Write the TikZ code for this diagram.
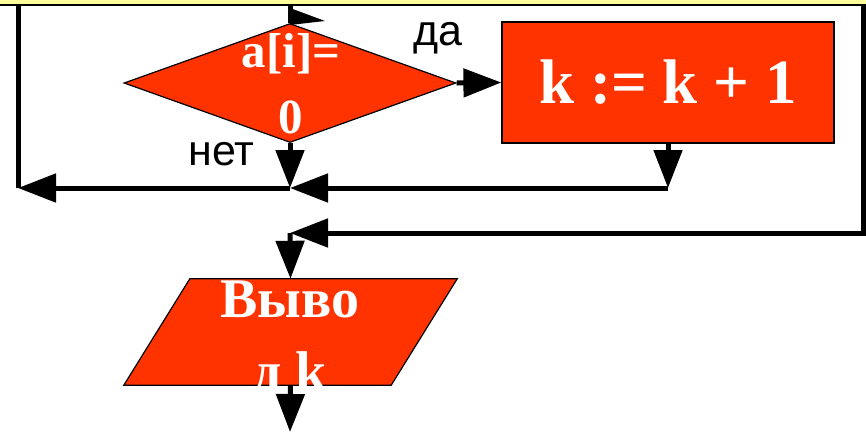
\documentclass[tikz,border=0pt]{standalone}
\usepackage{fontspec}
\setmainfont{Liberation Serif}
\newfontfamily\labelfont{Liberation Sans}
\usetikzlibrary{shapes.geometric,arrows.meta,calc}
\definecolor{blockred}{RGB}{255,51,0}
\definecolor{loopyellow}{RGB}{255,255,153}

\begin{document}
\begin{tikzpicture}[
    x=1pt, y=-1pt,
    block/.style={rectangle, draw, line width=1.2pt, fill=blockred, text=white, font=\bfseries\fontsize{63}{63}\selectfont, minimum width=332pt, minimum height=121pt, inner sep=0pt},
    cond/.style={diamond, draw, line width=1.2pt, fill=blockred, minimum width=332pt, minimum height=119pt, inner sep=0pt},
    iobox/.style={rectangle, minimum width=267pt, minimum height=106pt, inner sep=0pt},
    looptop/.style={rectangle, draw, line width=2.5pt, fill=loopyellow, minimum width=1000pt, minimum height=60pt},
    bigtext/.style={text=white, align=center, inner sep=0pt, anchor=base},
    answer/.style={font=\labelfont\fontsize{43}{43}\selectfont, inner sep=0pt, anchor=base},
    line/.style={line width=5pt},
    arrow/.style={line width=5pt, -{Triangle[length=38pt,width=28pt]}}
]
\useasboundingbox (0,0) rectangle (866,432);

% blocks
\node[looptop] (loop) at (433,-25) {};
\node[cond] (cond) at (290,83) {};
\node[block] (inc) at (668,82.5) {k := k + 1};
\node[iobox] (out) at (290.5,332) {};
\filldraw[fill=blockred, line width=1.2pt] ($(out.north west)+(33,0)$) -- ($(out.north east)+(33,0)$)
    -- ($(out.south east)+(-33,0)$) -- ($(out.south west)+(-33,0)$) -- cycle;

% texts in the blocks
\node[bigtext, font=\bfseries\fontsize{49}{66}\selectfont] (condtext) at (291,133) {a[i]=\\0};
\node[bigtext, font=\bfseries\fontsize{56}{73}\selectfont] (outtext) at (290,390) {Выво\\д k};

% branch labels
\node[answer] (yes) at (438,45) {да};
\node[answer] (no) at (221.5,165) {нет};

% junctions
\coordinate (j1) at (290,188);
\coordinate (j2) at (668,188);
\coordinate (j3) at (18,188);
\coordinate (j4) at (863,233);
\coordinate (j5) at (290,233);
\coordinate (stop) at (290,432);

% connectors
\draw[line] (loop.south -| cond.north) -- (cond.north);
\fill (290,8) -- (325,21) -- (290,25) -- cycle;
\draw[arrow] (cond.east) -- (inc.west);
\draw[arrow] (cond.south) -- (j1);
\draw[arrow] (inc.south) -- (j2);
\draw[arrow] (j2) -- (j1);
\draw[arrow] (j1) -- (j3);
\draw[line] (j3) -- (j3 |- loop.south);
\draw[arrow] (loop.south -| j4) -- (j4) -- (j5);
\draw[arrow] (j5) -- (out.north);
\draw[arrow] (out.south) -- (stop);

\end{tikzpicture}
\end{document}
